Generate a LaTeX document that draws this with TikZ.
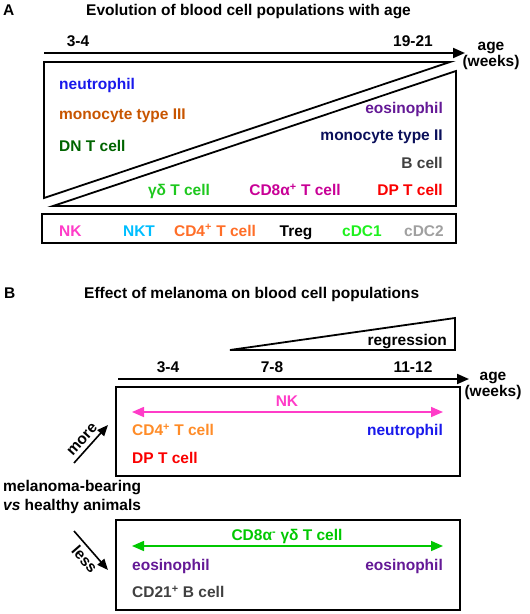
\documentclass[tikz,border=0pt]{standalone}
\usepackage{fontspec}
\setmainfont{Liberation Sans}
\usetikzlibrary{arrows.meta,positioning}

\definecolor{neutro}{RGB}{25,25,235}
\definecolor{monoIII}{RGB}{200,85,0}
\definecolor{dnt}{RGB}{0,100,0}
\definecolor{eosino}{RGB}{100,25,150}
\definecolor{monoII}{RGB}{10,15,90}
\definecolor{bcell}{RGB}{64,64,64}
\definecolor{dpt}{RGB}{250,0,0}
\definecolor{cdeight}{RGB}{200,0,150}
\definecolor{gdt}{RGB}{30,200,30}
\definecolor{nkpink}{RGB}{255,60,200}
\definecolor{nktcyan}{RGB}{0,190,255}
\definecolor{cdfour}{RGB}{255,110,40}
\definecolor{cdfourB}{RGB}{255,140,40}
\definecolor{cdcone}{RGB}{30,240,30}
\definecolor{cdctwo}{RGB}{160,160,160}
\definecolor{greenB}{RGB}{0,200,0}

\begin{document}
\begin{tikzpicture}[
            x=1pt, y=-1pt,
            lbl/.style={inner sep=0pt, font=\fontsize{15.5}{18}\selectfont\bfseries},
            frame/.style={draw, line width=1.8pt, line join=miter},
            axis/.style={-{Triangle[length=12pt,width=10pt]}, line width=2pt},
            span/.style={{Triangle[length=12pt,width=10pt]}-{Triangle[length=12pt,width=10pt]}, line width=1.6pt},
            tilt/.style={-{Triangle[length=11pt,width=9pt]}, line width=1.6pt}
        ]
        \useasboundingbox (0,0) rectangle (530,614);

        % Panel A: titles and age axis
        \node[lbl, anchor=base west] (labA) at (3,15) {A};
        \node[lbl, anchor=base west] (titleA) at (86,15) {Evolution of blood cell populations with age};
        \coordinate (axAstart) at (44,53);
        \coordinate (axAend) at (465,53);
        \draw[axis] (axAstart) -- (axAend);
        \node[lbl, anchor=base] (wkA1) at (78,46.7) {3-4};
        \node[lbl, anchor=base] (wkA2) at (413,46.7) {19-21};
        \node[lbl, align=center, font=\fontsize{15.5}{15.6}\selectfont\bfseries] (ageA) at (491,56) {age\\(weeks)};

        % Panel A: decreasing and increasing wedges
        \draw[frame] (44,62) -- (450,62) -- (44,198) -- cycle;
        \draw[frame] (456,71) -- (456,206) -- (53,206) -- cycle;
        \draw[frame] (42,214) rectangle (456,243);

        % Cells that decrease with age
        \node[lbl, anchor=base west, text=neutro] (neutroA) at (59,89) {neutrophil};
        \node[lbl, anchor=base west, text=monoIII] (monoIIIA) at (59,119.5) {monocyte type III};
        \node[lbl, anchor=base west, text=dnt] (dntA) at (59,151.7) {DN T cell};

        % Cells that increase with age
        \node[lbl, anchor=base east, text=eosino] (eosinoA) at (443,113.3) {eosinophil};
        \node[lbl, anchor=base east, text=monoII] (monoIIA) at (443,140.8) {monocyte type II};
        \node[lbl, anchor=base east, text=bcell] (bcellA) at (443,168) {B cell};
        \node[lbl, anchor=base east, text=dpt] (dptA) at (443,195.5) {DP T cell};
        \node[lbl, anchor=base, text=cdeight] (cdeightA) at (295,195.5) {CD8α\textsuperscript{+} T cell};
        \node[lbl, anchor=base, text=gdt] (gdtA) at (179,195.5) {γδ T cell};

        % Cells stable with age
        \node[lbl, anchor=base west, text=nkpink] (nkA) at (59,236) {NK};
        \node[lbl, anchor=base, text=nktcyan] (nktA) at (139,236) {NKT};
        \node[lbl, anchor=base, text=cdfour] (cdfourA) at (215,236) {CD4\textsuperscript{+} T cell};
        \node[lbl, anchor=base] (tregA) at (296,236) {Treg};
        \node[lbl, anchor=base, text=cdcone] (cdconeA) at (362,236) {cDC1};
        \node[lbl, anchor=base east, text=cdctwo] (cdctwoA) at (444,236) {cDC2};

        % Panel B: titles, regression wedge and age axis
        \node[lbl, anchor=base west] (labB) at (4,298.3) {B};
        \node[lbl, anchor=base west] (titleB) at (84,298.3) {Effect of melanoma on blood cell populations};
        \draw[frame] (230,350) -- (455,318) -- (455,350) -- cycle;
        \node[lbl, anchor=base east] (regress) at (447,345) {regression};
        \node[lbl, anchor=base] (wkB1) at (168,372.7) {3-4};
        \node[lbl, anchor=base] (wkB2) at (272,372.7) {7-8};
        \node[lbl, anchor=base] (wkB3) at (413,372.7) {11-12};
        \coordinate (axBstart) at (118,379);
        \coordinate (axBend) at (469,379);
        \draw[axis] (axBstart) -- (axBend);
        \node[lbl, align=center, font=\fontsize{15.5}{14.5}\selectfont\bfseries] (ageB) at (493,386) {age\\(weeks)};

        % Panel B: more in melanoma-bearing animals
        \draw[frame] (116,387) rectangle (460,476);
        \coordinate (nkL) at (132,412);
        \coordinate (nkR) at (443,412);
        \draw[span, nkpink] (nkL) -- (nkR);
        \node[lbl, anchor=base, text=nkpink] (nkB) at (287,406.7) {NK};
        \node[lbl, anchor=base west, text=cdfourB] (cdfourB) at (132,435.7) {CD4\textsuperscript{+} T cell};
        \node[lbl, anchor=base east, text=neutro] (neutroB) at (443,435.7) {neutrophil};
        \node[lbl, anchor=base west, text=dpt] (dptB) at (132,463.3) {DP T cell};

        % Comparison
        \node[lbl, align=left, anchor=north west, font=\fontsize{15.5}{18.3}\selectfont\bfseries] (compare) at (3,480.5) {melanoma-bearing\\\textit{vs} healthy animals};
        \coordinate (moreS) at (74,463);
        \coordinate (moreE) at (108,425);
        \draw[tilt] (moreS) -- node[lbl, sloped, above=4pt, pos=0.45] (moreL) {more} (moreE);
        \coordinate (lessS) at (74,531);
        \coordinate (lessE) at (108,570);
        \draw[tilt] (lessS) -- node[lbl, sloped, below=4pt, pos=0.55] (lessL) {less} (lessE);

        % Panel B: less in melanoma-bearing animals
        \draw[frame] (116,520) rectangle (460,610);
        \coordinate (gdL) at (132,546);
        \coordinate (gdR) at (443,546);
        \draw[span, greenB] (gdL) -- (gdR);
        \node[lbl, anchor=base, text=greenB] (gdB) at (287,540.7) {CD8α\textsuperscript{-} γδ T cell};
        \node[lbl, anchor=base west, text=eosino] (eosinoB1) at (132,570) {eosinophil};
        \node[lbl, anchor=base east, text=eosino] (eosinoB2) at (443,570) {eosinophil};
        \node[lbl, anchor=base west, text=bcell] (cdtwentyone) at (132,597.3) {CD21\textsuperscript{+} B cell};
    \end{tikzpicture}
\end{document}
